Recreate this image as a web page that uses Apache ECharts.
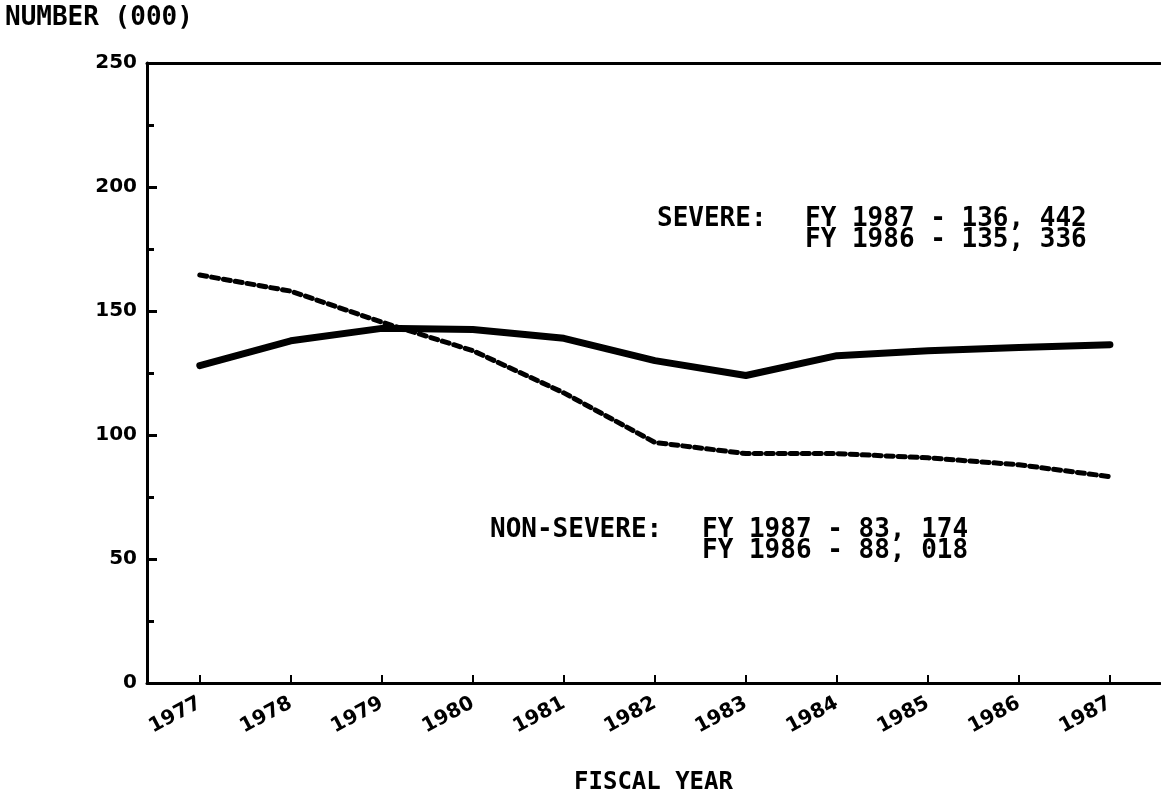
<!DOCTYPE html>
<html>
<head>
<meta charset="utf-8">
<script src="https://cdn.jsdelivr.net/npm/echarts@6/dist/echarts.min.js"></script>
<style>
  html, body { margin: 0; padding: 0; background: #fff; }
  #chart { width: 1161px; height: 800px; }
</style>
</head>
<body>
<div id="chart"></div>
<script>
  // fiscal years on the x axis
  const years = [1977, 1978, 1979, 1980, 1981, 1982, 1983, 1984, 1985, 1986, 1987]
  // number of cases (000)
  const severe = [128, 138, 143, 142.5, 139, 130, 124, 132, 134, 135.3, 136.4]
  const nonSevere = [164.5, 158, 145.5, 134, 117, 97, 92.5, 92.5, 90.8, 88.0, 83.2]
  // y axis range
  const yMin = 0
  const yMax = 250
  const yStep = 50

  const monoFont = '"DejaVu Sans Mono", monospace'
  const chart = echarts.init(document.getElementById('chart'), null, { renderer: 'canvas' })

  // the plot runs a little past the first and last year
  const xMin = 1976.42
  const xMax = 1987.55

  chart.setOption({
    backgroundColor: '#fff',
    animation: false,
    grid: { left: 147, right: 1, top: 63, bottom: 117 },
    xAxis: [
      {
        type: 'value',
        min: xMin,
        max: xMax,
        name: 'FISCAL YEAR',
        nameLocation: 'middle',
        nameGap: 88,
        nameTextStyle: { fontFamily: monoFont, fontSize: 24, fontWeight: 'bold', color: '#000' },
        axisLine: { show: true, lineStyle: { color: '#000', width: 3 } },
        axisTick: { show: true, inside: true, length: 8, customValues: years, lineStyle: { color: '#000', width: 2 } },
        axisLabel: {
          rotate: 28,
          margin: 19,
          customValues: years,
          formatter: (v) => String(Math.round(v)),
          fontFamily: 'DejaVu Sans',
          fontWeight: 'bold',
          fontSize: 20,
          color: '#000'
        },
        splitLine: { show: false }
      },
      {
        // top border of the plot
        type: 'value',
        min: xMin,
        max: xMax,
        position: 'top',
        axisLine: { show: true, lineStyle: { color: '#000', width: 3 } },
        axisTick: { show: false },
        axisLabel: { show: false },
        splitLine: { show: false }
      }
    ],
    yAxis: {
      type: 'value',
      min: yMin,
      max: yMax,
      interval: yStep,
      axisLine: { show: true, lineStyle: { color: '#000', width: 3 } },
      axisTick: { show: true, inside: true, length: 10, lineStyle: { color: '#000', width: 3 } },
      minorTick: { show: true, splitNumber: 2, length: 7, lineStyle: { color: '#000', width: 3 } },
      axisLabel: { margin: 10, fontFamily: 'DejaVu Sans', fontWeight: 'bold', fontSize: 20, color: '#000' },
      splitLine: { show: false }
    },
    series: [
      {
        name: 'Severe',
        type: 'line',
        data: years.map((y, i) => [y, severe[i]]),
        symbol: 'none',
        lineStyle: { color: '#000', width: 7, cap: 'round', join: 'round' },
        z: 3
      },
      {
        name: 'Non-severe',
        type: 'line',
        data: years.map((y, i) => [y, nonSevere[i]]),
        symbol: 'none',
        lineStyle: { color: '#000', width: 5, type: [7, 5], cap: 'round' },
        z: 4
      }
    ],
    graphic: [
      {
        type: 'text', left: 5, top: 5,
        style: { text: 'NUMBER (000)', font: 'bold 26px ' + monoFont, fill: '#000' }
      },
      {
        type: 'text', left: 657, top: 206,
        style: { text: 'SEVERE:', font: 'bold 26px ' + monoFont, fill: '#000', lineHeight: 21 }
      },
      {
        type: 'text', left: 805, top: 206,
        style: { text: 'FY 1987 - 136, 442\nFY 1986 - 135, 336', font: 'bold 26px ' + monoFont, fill: '#000', lineHeight: 21 }
      },
      {
        type: 'text', left: 490, top: 517,
        style: { text: 'NON-SEVERE:', font: 'bold 26px ' + monoFont, fill: '#000', lineHeight: 21 }
      },
      {
        type: 'text', left: 702, top: 517,
        style: { text: 'FY 1987 - 83, 174\nFY 1986 - 88, 018', font: 'bold 26px ' + monoFont, fill: '#000', lineHeight: 21 }
      }
    ]
  })
</script>
</body>
</html>
